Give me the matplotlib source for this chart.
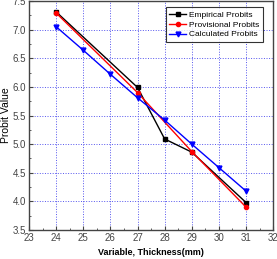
import matplotlib
matplotlib.use('Agg')
import matplotlib.pyplot as plt
from matplotlib.ticker import MultipleLocator

plt.rcParams['font.family'] = ['Liberation Sans', 'DejaVu Sans']

# data
emp_x = [24, 27, 28, 29, 31]
emp_y = [7.31, 5.99, 5.09, 4.86, 3.98]
prov_x = [24, 27, 29, 31]
prov_y = [7.29, 5.90, 4.87, 3.90]
calc_x = [24, 25, 26, 27, 28, 29, 30, 31]
calc_y = [7.05, 6.64, 6.22, 5.81, 5.42, 5.00, 4.59, 4.18]

fig = plt.figure(figsize=(2.77, 2.59), dpi=100)
ax = fig.add_axes([0.105, 0.112, 0.881, 0.884])

ax.plot(emp_x, emp_y, color='black', marker='s', markersize=3, linewidth=1, label='Empirical Probits')
ax.plot(prov_x, prov_y, color='red', marker='o', markersize=3, linewidth=1, label='Provisional Probits')
ax.plot(calc_x, calc_y, color='blue', marker='v', markersize=3.5, linewidth=1, label='Calculated Probits')

ax.set_xlim(23, 32)
ax.set_ylim(3.5, 7.5)
ax.xaxis.set_major_locator(MultipleLocator(1))
ax.xaxis.set_minor_locator(MultipleLocator(0.5))
ax.yaxis.set_major_locator(MultipleLocator(0.5))
ax.yaxis.set_minor_locator(MultipleLocator(0.25))
ax.grid(True, which='major', color='#5555ee', linestyle=':', linewidth=0.7)
ax.tick_params(which='both', direction='in', labelsize=7, colors='#444444', length=3, pad=2)
ax.tick_params(which='minor', length=1.5)
for s in ax.spines.values():
    s.set_color('#444444')
    s.set_linewidth(1)

ax.set_xlabel('Variable, Thickness(mm)', fontsize=6.5, fontweight='bold', labelpad=4)
ax.set_ylabel('Probit Value', fontsize=7.5, labelpad=1)

leg = ax.legend(loc='upper right', fontsize=6, frameon=True, fancybox=False,
                edgecolor='black', handlelength=2, handletextpad=0.4, borderpad=0.4,
                labelspacing=0.25, bbox_to_anchor=(0.975, 0.99))
leg.get_frame().set_linewidth(0.8)

fig.savefig('out.png', dpi=100, facecolor='white')
